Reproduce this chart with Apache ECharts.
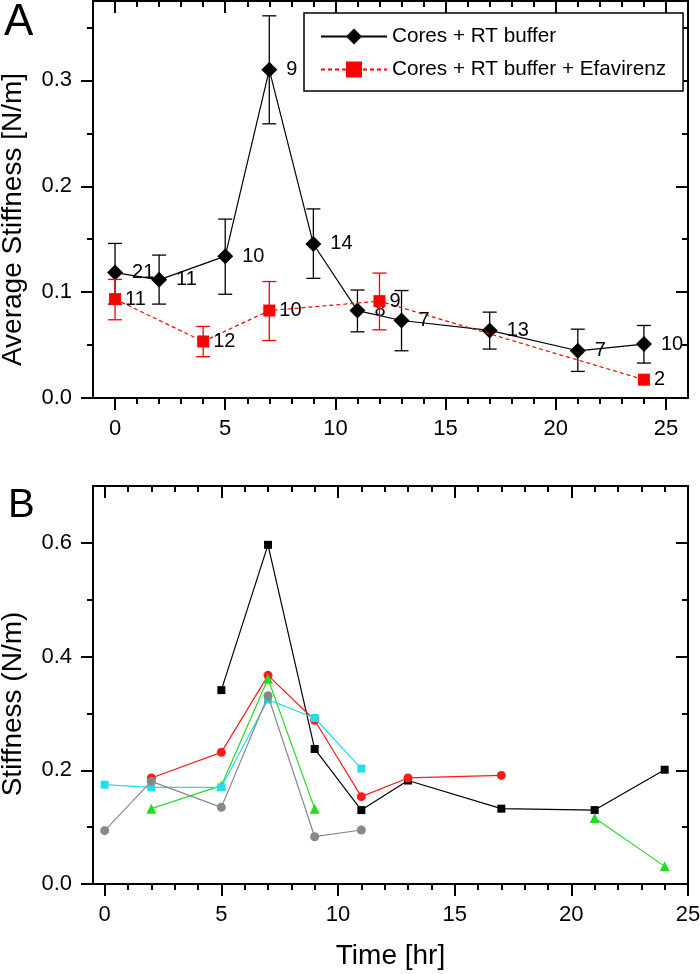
<!DOCTYPE html>
<html><head><meta charset="utf-8">
<script src="https://cdn.jsdelivr.net/npm/echarts@6/dist/echarts.min.js"></script>
<style>html,body{margin:0;padding:0;background:#fff}#c{width:700px;height:974px}</style>
</head><body><div id="c"></div>
<script>
// ---------- Panel A data ----------
const aBlackX  = [0, 2, 5, 7, 9, 11, 13, 17, 21, 24];
const aBlackY  = [0.1185, 0.1116, 0.134, 0.310, 0.1455, 0.0826, 0.0732, 0.0638, 0.0446, 0.0509];
const aBlackLo = [0.0887, 0.0887, 0.098, 0.259, 0.113, 0.0625, 0.0446, 0.0462, 0.0251, 0.033];
const aBlackHi = [0.146, 0.135, 0.169, 0.361, 0.1786, 0.102, 0.1015, 0.0811, 0.065, 0.0685];
const aBlackN  = [21, 11, 10, 9, 14, 8, 7, 13, 7, 10];
const aRedX  = [0, 4, 7, 12, 24];
const aRedY  = [0.0934, 0.0534, 0.0826, 0.0915, 0.0173];
const aRedLo = [0.0739, 0.039, 0.0543, 0.0644, null];
const aRedHi = [0.112, 0.0676, 0.110, 0.118, null];
const aRedN  = [11, 12, 10, 9, 2];
const seriesNames = ['Cores + RT buffer', 'Cores + RT buffer + Efavirenz'];

// ---------- Panel B data ----------
const bBlackX = [5, 7, 9, 11, 13, 17, 21, 24];
const bBlackY = [0.341, 0.5965, 0.2375, 0.130, 0.182, 0.1325, 0.130, 0.201];
const bRedX = [2, 5, 7, 9, 11, 13, 17];
const bRedY = [0.1865, 0.2316, 0.367, 0.288, 0.1536, 0.1865, 0.191];
const bGreenX = [2, 5, 7, 9, 11, 21, 24];
const bGreenY = [0.1325, 0.173, 0.361, 0.1325, null, 0.116, 0.031];
const bCyanX = [0, 2, 5, 7, 9, 11];
const bCyanY = [0.1747, 0.170, 0.170, 0.3243, 0.292, 0.203];
const bGrayX = [0, 2, 5, 7, 9, 11];
const bGrayY = [0.0938, 0.1806, 0.1348, 0.331, 0.0832, 0.095];

// ---------- ticks ----------
const xMajorTicks = [0, 5, 10, 15, 20, 25];
const xMinorTicks = [1, 2, 3, 4, 6, 7, 8, 9, 11, 12, 13, 14, 16, 17, 18, 19, 21, 22, 23, 24];
const aYMajorTicks = [0, 0.1, 0.2, 0.3];
const aYMinorTicks = [0.05, 0.15, 0.25, 0.35];
const bYMajorTicks = [0, 0.2, 0.4, 0.6];
const bYMinorTicks = [0.1, 0.3, 0.5];

const FONT = '"Liberation Sans", Arial, sans-serif';

function pairs(xs, ys) { return xs.map((x, i) => [x, ys[i] == null ? '-' : ys[i]]); }
function triples(xs, lo, hi) { return xs.map((x, i) => [x, lo[i] == null ? NaN : lo[i], hi[i] == null ? NaN : hi[i]]); }

function errRender(color) {
  return function (params, api) {
    const x = api.value(0), lo = api.value(1), hi = api.value(2);
    if (isNaN(lo) || isNaN(hi)) return null;
    const pt = api.coord([x, hi]), pb = api.coord([x, lo]);
    const w = 7;
    const st = { stroke: color, lineWidth: 1.3 };
    return { type: 'group', children: [
      { type: 'line', shape: { x1: pt[0], y1: pt[1], x2: pb[0], y2: pb[1] }, style: st },
      { type: 'line', shape: { x1: pt[0] - w, y1: pt[1], x2: pt[0] + w, y2: pt[1] }, style: st },
      { type: 'line', shape: { x1: pb[0] - w, y1: pb[1], x2: pb[0] + w, y2: pb[1] }, style: st }
    ]};
  };
}

function mkAxis(gi, pos, min, max, tickVals, len, inside, labelVals, margin, extra) {
  return Object.assign({
    type: 'value', gridIndex: gi, position: pos, min: min, max: max,
    axisLine: { show: true, onZero: false, lineStyle: { color: '#000', width: 2 } },
    axisTick: { show: true, inside: inside, length: len, customValues: tickVals, lineStyle: { color: '#000', width: 2 } },
    axisLabel: labelVals ? { show: true, customValues: labelVals, fontSize: 22, fontFamily: FONT, color: '#000', margin: margin } : { show: false },
    splitLine: { show: false }, minorTick: { show: false }
  }, extra || {});
}
const yFmt = v => v.toFixed(1);
const nameStyle = { fontSize: 28, fontFamily: FONT, color: '#000' };

const xAxes = [];
const yAxes = [];
// Panel A axes (grid 0): x indices 0..3, y indices 0..3
xAxes.push(mkAxis(0, 'bottom', -1, 26, xMajorTicks, 12, false, xMajorTicks, 20));
xAxes.push(mkAxis(0, 'bottom', -1, 26, xMinorTicks, 6, false, null));
xAxes.push(mkAxis(0, 'top', -1, 26, xMajorTicks, 12, true, null));
xAxes.push(mkAxis(0, 'top', -1, 26, xMinorTicks, 6, true, null));
yAxes.push(mkAxis(0, 'left', 0, 0.375, aYMajorTicks, 12, false, aYMajorTicks, 21, {
  name: 'Average Stiffness [N/m]', nameLocation: 'middle', nameGap: 66,
  nameTextStyle: Object.assign({ padding: [0, 40, 0, 0] }, nameStyle)
}));
yAxes[0].axisLabel.formatter = yFmt;
yAxes.push(mkAxis(0, 'left', 0, 0.375, aYMinorTicks, 6, false, null));
yAxes.push(mkAxis(0, 'right', 0, 0.375, aYMajorTicks, 12, true, null));
yAxes.push(mkAxis(0, 'right', 0, 0.375, aYMinorTicks, 6, true, null));
// Panel B axes (grid 1): x indices 4..7, y indices 4..7
xAxes.push(mkAxis(1, 'bottom', -0.5, 25, xMajorTicks, 12, false, xMajorTicks, 20, {
  name: 'Time [hr]', nameLocation: 'middle', nameGap: 58, nameTextStyle: nameStyle
}));
xAxes.push(mkAxis(1, 'bottom', -0.5, 25, xMinorTicks, 6, false, null));
xAxes.push(mkAxis(1, 'top', -0.5, 25, xMajorTicks, 12, true, null));
xAxes.push(mkAxis(1, 'top', -0.5, 25, xMinorTicks, 6, true, null));
yAxes.push(mkAxis(1, 'left', 0, 0.7, bYMajorTicks, 12, false, bYMajorTicks, 21, {
  name: 'Stiffness (N/m)', nameLocation: 'middle', nameGap: 66,
  nameTextStyle: Object.assign({ padding: [0, 38, 0, 0] }, nameStyle)
}));
yAxes[4].axisLabel.formatter = yFmt;
yAxes.push(mkAxis(1, 'left', 0, 0.7, bYMinorTicks, 6, false, null));
yAxes.push(mkAxis(1, 'right', 0, 0.7, bYMajorTicks, 12, true, null));
yAxes.push(mkAxis(1, 'right', 0, 0.7, bYMinorTicks, 6, true, null));

function numLabel(arr, dist) {
  return { show: true, position: 'right', distance: dist, fontSize: 20, fontFamily: FONT, color: '#000',
           formatter: p => String(arr[p.dataIndex]) };
}
function bLine(xs, ys, color, symbol, size, z) {
  return { type: 'line', xAxisIndex: 4, yAxisIndex: 4, data: pairs(xs, ys), symbol: symbol, symbolSize: size,
    connectNulls: false, itemStyle: { color: color }, lineStyle: { color: color, width: 1.2 }, z: z };
}

const option = {
  animation: false,
  backgroundColor: '#fff',
  grid: [
    { left: 93, right: 12, top: 1, height: 397, containLabel: false, outerBoundsMode: 'none' },
    { left: 93, right: 12, top: 486, height: 398, containLabel: false, outerBoundsMode: 'none' }
  ],
  xAxis: xAxes,
  yAxis: yAxes,
  legend: {
    data: seriesNames, orient: 'vertical', left: 304, top: 13,
    padding: [13, 17, 11, 16], itemGap: 12, itemWidth: 66, itemHeight: 20,
    borderColor: '#000', borderWidth: 1.5, backgroundColor: '#fff',
    textStyle: { fontSize: 20.7, fontFamily: FONT, color: '#000' }
  },
  graphic: [
    { type: 'text', left: 4, top: 1, style: { text: 'A', fontSize: 44, fontFamily: FONT, fill: '#000' } },
    { type: 'text', left: 8, top: 486, style: { text: 'B', fontSize: 40, fontFamily: FONT, fill: '#000' } }
  ],
  series: [
    { type: 'custom', xAxisIndex: 0, yAxisIndex: 0, renderItem: errRender('#000'),
      data: triples(aBlackX, aBlackLo, aBlackHi), encode: { x: 0, y: [1, 2] }, z: 1, silent: true },
    { type: 'line', name: seriesNames[0], xAxisIndex: 0, yAxisIndex: 0, data: pairs(aBlackX, aBlackY),
      symbol: 'diamond', symbolSize: 16, itemStyle: { color: '#000' }, lineStyle: { color: '#000', width: 1.2 },
      label: numLabel(aBlackN, 9), z: 2 },
    { type: 'custom', xAxisIndex: 0, yAxisIndex: 0, renderItem: errRender('#ff0000'),
      data: triples(aRedX, aRedLo, aRedHi), encode: { x: 0, y: [1, 2] }, z: 3, silent: true },
    { type: 'line', name: seriesNames[1], xAxisIndex: 0, yAxisIndex: 0, data: pairs(aRedX, aRedY),
      symbol: 'rect', symbolSize: 12, itemStyle: { color: '#ff0000' },
      lineStyle: { color: '#ff0000', width: 1.2, type: [4, 3] },
      label: numLabel(aRedN, 4), z: 4 },
    bLine(bBlackX, bBlackY, '#000000', 'rect', 8, 2),
    bLine(bRedX, bRedY, '#ff1a1a', 'circle', 9, 3),
    bLine(bGreenX, bGreenY, '#22dd22', 'triangle', 10, 4),
    bLine(bCyanX, bCyanY, '#22ddee', 'rect', 8, 5),
    bLine(bGrayX, bGrayY, '#888888', 'circle', 9, 6)
  ]
};
const chart = echarts.init(document.getElementById('c'), null, { renderer: 'canvas' });
chart.setOption(option);
</script>
</body></html>
